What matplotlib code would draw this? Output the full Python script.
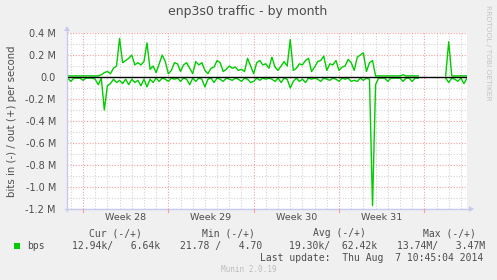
import numpy as np
import matplotlib
matplotlib.use('Agg')
import matplotlib.pyplot as plt
from matplotlib.lines import Line2D
from matplotlib.patches import Polygon, Rectangle

W, H = 497, 280
def fx(px): return px / W
def fy(py): return 1 - py / H

nan = np.nan
# sample times in days since start of week 28 (6-hour samples)
days = np.arange(-1.25, 31.5001, 0.25)

# traffic, in M bits/s (out positive, in negative)
out_vals = [
    0.01, 0.01, 0.01, 0.01, 0.01, 0.01, 0.01, 0.01, 0.01, 0.01,
    0.01, 0.02, 0.04, 0.05, 0.03, 0.08, 0.10, 0.35, 0.13, 0.15,
    0.17, 0.20, 0.11, 0.13, 0.11, 0.14, 0.31, 0.07, 0.10, 0.04,
    0.12, 0.20, 0.14, 0.03, 0.06, 0.13, 0.12, 0.05, 0.11, 0.13,
    0.08, 0.03, 0.14, 0.11, 0.13, 0.06, 0.03, 0.08, 0.09, 0.15,
    0.13, 0.05, 0.07, 0.10, 0.08, 0.09, 0.06, 0.07, 0.05, 0.17,
    0.10, 0.03, 0.13, 0.15, 0.11, 0.12, 0.08, 0.18, 0.09, 0.06,
    0.10, 0.14, 0.10, 0.34, 0.06, 0.08, 0.12, 0.11, 0.15, 0.17,
    0.05, 0.09, 0.14, 0.15, 0.19, 0.06, 0.12, 0.11, 0.15, 0.06,
    0.09, 0.10, 0.16, 0.13, 0.06, 0.18, 0.20, 0.22, 0.05, 0.13,
    0.15, 0.01, 0.01, 0.01, 0.01, 0.01, 0.01, 0.01, 0.01, 0.01,
    0.02, 0.01, 0.01, 0.01, 0.01, 0.01, nan, nan, nan, nan,
    nan, nan, nan, nan, 0.01, 0.32, 0.01, 0.01, 0.01, 0.01,
    0.01, 0.01,
]
in_vals = [
    -0.01, -0.04, -0.01, -0.01, -0.01, -0.03, -0.01, -0.01, -0.01, -0.02,
    -0.07, -0.01, -0.30, -0.08, -0.06, -0.02, -0.05, -0.03, -0.06, -0.02,
    -0.07, -0.02, -0.05, -0.03, -0.08, -0.02, -0.09, -0.02, -0.05, -0.01,
    -0.04, -0.01, -0.02, -0.04, -0.01, -0.02, -0.01, -0.04, -0.01, -0.02,
    -0.07, -0.01, -0.04, -0.01, -0.02, -0.09, -0.02, -0.01, -0.05, -0.01,
    -0.02, -0.04, -0.01, -0.02, -0.03, -0.01, -0.02, -0.04, -0.01, -0.02,
    -0.05, -0.04, -0.01, -0.03, -0.01, -0.02, -0.01, -0.02, -0.04, -0.01,
    -0.05, -0.01, -0.02, -0.10, -0.04, -0.01, -0.04, -0.02, -0.05, -0.01,
    -0.02, -0.01, -0.02, -0.04, -0.01, -0.02, -0.03, -0.01, -0.02, -0.04,
    -0.01, -0.02, -0.01, -0.04, -0.03, -0.04, -0.01, -0.03, -0.01, -0.02,
    -1.17, -0.07, -0.01, -0.01, -0.01, -0.04, -0.01, -0.01, -0.01, -0.01,
    -0.04, -0.01, -0.01, -0.04, -0.01, -0.01, nan, nan, nan, nan,
    nan, nan, nan, nan, -0.01, -0.05, -0.01, -0.02, -0.04, -0.01,
    -0.06, -0.01,
]

yticks = [-1.2, -1.0, -0.8, -0.6, -0.4, -0.2, 0.0, 0.2, 0.4]
ytick_labels = ['-1.2 M', '-1.0 M', '-0.8 M', '-0.6 M', '-0.4 M', '-0.2 M', '0.0', '0.2 M', '0.4 M']
week_starts = [0, 7, 14, 21, 28]
week_labels = ['Week 28', 'Week 29', 'Week 30', 'Week 31']

GREEN = '#00CC00'
TXT = '#4d4d4d'
AXC = '#C8C8F2'

fig = plt.figure(figsize=(W / 100, H / 100), dpi=100)
fig.patch.set_facecolor('#F0F0F0')

x0, x1, y0, y1 = 67, 467, 33, 209
ax = fig.add_axes([fx(x0), fy(y1), (x1 - x0) / W, (y1 - y0) / H])
ax.set_facecolor('white')
ax.set_xlim(-1.3126, 31.5)
ax.set_ylim(-1.2, 0.4)
for s in ax.spines.values():
    s.set_visible(False)

dot = (0, (1, 1.5))
# minor grid
for d in np.arange(-1, 32):
    if d in week_starts:
        continue
    ax.axvline(d, color='#D4D4D4', lw=0.8, ls=dot, zorder=1)
for v in np.arange(-1.1, 0.41, 0.2):
    ax.axhline(v, color='#D4D4D4', lw=0.8, ls=dot, zorder=1)
# major grid
for d in week_starts:
    ax.axvline(d, color='#F2A0A0', lw=0.8, ls=dot, zorder=1.5)
for v in yticks:
    if v != 0:
        ax.axhline(v, color='#F2A0A0', lw=0.8, ls=dot, zorder=1.5)

ax.plot(days, out_vals, color=GREEN, lw=1.0, zorder=3)
ax.plot(days, in_vals, color=GREEN, lw=1.0, zorder=3)
ax.axhline(0, color='black', lw=1.0, zorder=4)

ax.set_yticks(yticks)
ax.set_yticklabels(ytick_labels)
ax.tick_params(axis='y', length=0, pad=8, labelsize=7, labelcolor=TXT)
ax.set_xticks([w + 3.5 for w in week_starts[:4]])
ax.set_xticklabels(week_labels)
ax.tick_params(axis='x', length=0, pad=3, labelsize=6.8, labelcolor=TXT)

# axis lines with arrows
fig.add_artist(Line2D([fx(x0), fx(x0)], [fy(y1 + 2), fy(30)], color=AXC, lw=1.0))
fig.add_artist(Line2D([fx(x0 - 2), fx(470)], [fy(y1), fy(y1)], color=AXC, lw=1.0))
fig.add_artist(Polygon([[fx(x0 - 3), fy(31)], [fx(x0 + 3), fy(31)], [fx(x0), fy(26)]],
                       closed=True, color=AXC, lw=0))
fig.add_artist(Polygon([[fx(469), fy(y1 - 3)], [fx(469), fy(y1 + 3)], [fx(474), fy(y1)]],
                       closed=True, color=AXC, lw=0))
# x ticks below axis
for d in week_starts:
    xp = x0 + (d + 1.3126) / (31.5 + 1.3126) * (x1 - x0)
    fig.add_artist(Line2D([fx(xp), fx(xp)], [fy(y1), fy(y1 + 3)], color='#F2A0A0', lw=0.8))

fig.text(fx(248), fy(12), 'enp3s0 traffic - by month', ha='center', va='center',
         fontsize=9, color=TXT)
fig.text(fx(12), fy(121), 'bits in (-) / out (+) per second', ha='center', va='center',
         rotation=90, fontsize=7.3, color=TXT)
fig.text(fx(488), fy(5), 'RRDTOOL / TOBI OETIKER', ha='center', va='top',
         rotation=270, fontsize=5.4, color='#C4C4C4')

mono = 'DejaVu Sans Mono'
fs = 7
ty1, ty2, ty3 = 233, 246, 258
for txt, xl in [('Cur (-/+)', 89), ('Min (-/+)', 202), ('Avg (-/+)', 313), ('Max (-/+)', 423)]:
    fig.text(fx(xl), fy(ty1), txt, ha='left', va='center', family=mono, fontsize=fs, color=TXT)
fig.add_artist(Rectangle((fx(14), fy(248.5)), 6 / W, 6 / H, color=GREEN, lw=0))
fig.text(fx(27), fy(ty2), 'bps', ha='left', va='center', family=mono, fontsize=fs, color=TXT)
for txt, xl in [('12.94k/   6.64k', 72), ('21.78 /   4.70', 180),
                ('19.30k/  62.42k', 289), ('13.74M/   3.47M', 397)]:
    fig.text(fx(xl), fy(ty2), txt, ha='left', va='center', family=mono, fontsize=fs, color=TXT)
fig.text(fx(483), fy(ty3), 'Last update:  Thu Aug  7 10:45:04 2014', ha='right', va='center',
         family=mono, fontsize=fs, color=TXT)
fig.text(fx(249), fy(269), 'Munin 2.0.19', ha='center', va='center', family=mono,
         fontsize=5.6, color='#BDBDBD')

fig.savefig('out.png', dpi=100, facecolor=fig.get_facecolor())
